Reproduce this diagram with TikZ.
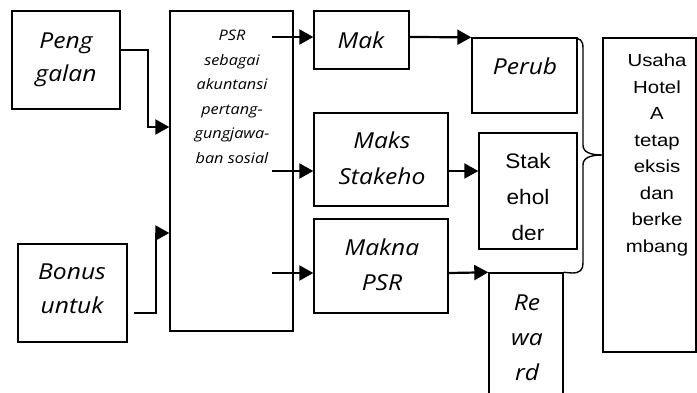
\documentclass[tikz,border=0pt]{standalone}
\usepackage{fontspec}
\setmainfont{Open Sans}
\newfontfamily\arialf{Liberation Sans}
\usetikzlibrary{arrows.meta}
\tikzset{
  boxn/.style={draw, line width=1.4pt, inner sep=0pt, rectangle},
  itxt/.style={font=\itshape\fontsize{22}{35}\selectfont, align=center, inner sep=0pt, xscale=1.12, transform shape},
  smalltxt/.style={font=\itshape\fontsize{14.5}{24.5}\selectfont, align=center, inner sep=0pt, xscale=1.12, transform shape},
  artxt/.style={align=center, inner sep=0pt, xscale=1.12, transform shape},
  conn/.style={line width=2.2pt, line join=miter},
  arr/.style={line width=2.2pt, line join=miter, -{Triangle[length=14pt,width=15pt]}},
  bracel/.style={line width=1.4pt}
}
\begin{document}
\begin{tikzpicture}[x=1pt,y=-1pt]
\useasboundingbox (0,0) rectangle (697,392);
\clip (0,0) rectangle (697,392);
% boxes
\node[boxn, minimum width=108pt, minimum height=98pt] (peng) at (66,60) {};
\node[boxn, minimum width=109pt, minimum height=98pt] (bonus) at (72.5,293) {};
\node[boxn, minimum width=123pt, minimum height=320pt] (psr) at (231.5,171) {};
\node[boxn, minimum width=95pt, minimum height=58pt] (mak) at (361.5,40) {};
\node[boxn, minimum width=134pt, minimum height=93pt] (maks) at (381,159.5) {};
\node[boxn, minimum width=134pt, minimum height=94pt] (makna) at (381,266) {};
\node[boxn, minimum width=105pt, minimum height=75pt] (perub) at (524.5,75.5) {};
\node[boxn, minimum width=98pt, minimum height=116pt] (stak) at (528,191) {};
\node[boxn, minimum width=74pt, minimum height=135pt] (reward) at (526,340.5) {};
\node[boxn, minimum width=93pt, minimum height=314pt] (usaha) at (649.5,195) {};
% texts
\node[itxt, font=\itshape\fontsize{22}{33}\selectfont] (tpeng) at (66,60) {Peng\\galan};
\node[itxt, font=\itshape\fontsize{22}{34}\selectfont] (tbonus) at (72,289) {Bonus\\untuk};
\node[smalltxt] (tpsr) at (232,97) {PSR\\sebagai\\akuntansi\\pertang-\\gungjawa-\\ban sosial};
\node[itxt] (tmak) at (361,40) {Mak};
\node[itxt] (tperub) at (525,66) {Perub};
\node[itxt, font=\itshape\fontsize{22}{36}\selectfont] (tmaks) at (382,158) {Maks\\Stakeho};
\node[itxt, font=\itshape\fontsize{22}{35}\selectfont] (tmakna) at (382,264.5) {Makna\\PSR};
\begin{scope}
\clip (stak.north west) rectangle ([yshift=10pt]stak.south east);
\node[artxt, font=\arialf\fontsize{21}{36}\selectfont, xscale=0.96] (tstak) at (528,197) {Stak\\ehol\\der};
\end{scope}
\node[itxt, font=\itshape\fontsize{22}{35}\selectfont] (trew) at (527,338) {Re\\wa\\rd};
\node[artxt, font=\arialf\fontsize{17.5}{26.5}\selectfont, xscale=1.04] (tusaha) at (657,155) {Usaha\\Hotel\\A\\tetap\\eksis\\dan\\berke\\mbang};
% connector points
\coordinate (p1) at (120,50);
\coordinate (b1) at (134,313);
\coordinate (s1) at (272,37);
\coordinate (s2) at (272,171);
\coordinate (s3) at (272,273);
% connectors
\draw[arr] (p1) -- (148,50) -- (148,127) -- (psr.west |- 0,127);
\draw[arr] (b1) -- (156,313) -- (156,233) -- (psr.west |- 0,233);
\draw[arr] (s1) -- (mak.west |- s1);
\draw[arr] (s2) -- (maks.west |- s2);
\draw[arr] (s3) -- (makna.west |- s3);
\draw[arr] (mak.east |- 0,37) -- (perub.north west);
\draw[arr] (maks.east |- 0,171) -- (stak.west |- 0,171);
\draw[arr] (makna.east |- 0,273) -- (reward.north west);
% brace
\draw[bracel] (572,38) .. controls (580,38) and (583,40) .. (583,48) -- (583,145)
  .. controls (583,152) and (590,155) .. (usaha.west |- 0,155)
  .. controls (590,155) and (583,158) .. (583,165) -- (583,263)
  .. controls (583,270) and (580,273) .. (572,273) -- (reward.north east);
\end{tikzpicture}
\end{document}
